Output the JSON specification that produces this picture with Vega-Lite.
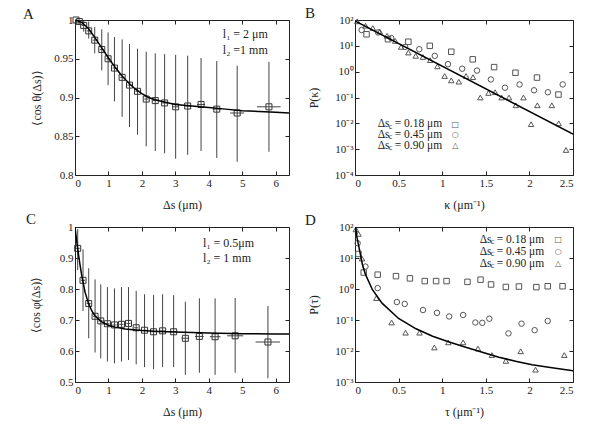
{
"$schema": "https://vega.github.io/schema/vega-lite/v6.json",
"padding": {"left": 22, "top": 5, "right": 5, "bottom": 5},
"config": {
  "font": "Liberation Serif",
  "view": {"stroke": "#222", "strokeWidth": 1},
  "axis": {"grid": false, "domain": false, "tickSize": -4, "tickColor": "#222", "labelFont": "Liberation Serif", "labelFontSize": 11, "labelColor": "#222", "labelPadding": 6, "titleFont": "Liberation Serif", "titleFontSize": 12, "titleFontWeight": "normal", "titleColor": "#222"},
  "axisBottom": {"titlePadding": 11},
  "title": {"font": "Liberation Serif", "fontSize": 15, "fontWeight": "normal", "color": "#222", "anchor": "start", "frame": "group", "offset": 0, "baseline": "alphabetic"}
},
"datasets": {
  "A": [
    {"s":0.03,"m":1.000,"lo":0.999,"hi":1.000,"xlo":0.0,"xhi":0.08},
    {"s":0.13,"m":0.998,"lo":0.995,"hi":1.000,"xlo":0.08,"xhi":0.18},
    {"s":0.26,"m":0.993,"lo":0.985,"hi":0.999,"xlo":0.2,"xhi":0.32},
    {"s":0.41,"m":0.986,"lo":0.976,"hi":0.998,"xlo":0.35,"xhi":0.47},
    {"s":0.59,"m":0.974,"lo":0.957,"hi":0.991,"xlo":0.53,"xhi":0.65},
    {"s":0.80,"m":0.962,"lo":0.935,"hi":0.988,"xlo":0.74,"xhi":0.86},
    {"s":0.99,"m":0.950,"lo":0.916,"hi":0.984,"xlo":0.93,"xhi":1.05},
    {"s":1.18,"m":0.938,"lo":0.895,"hi":0.978,"xlo":1.12,"xhi":1.24},
    {"s":1.41,"m":0.926,"lo":0.875,"hi":0.975,"xlo":1.35,"xhi":1.47},
    {"s":1.63,"m":0.916,"lo":0.862,"hi":0.969,"xlo":1.57,"xhi":1.69},
    {"s":1.87,"m":0.908,"lo":0.852,"hi":0.963,"xlo":1.81,"xhi":1.93},
    {"s":2.13,"m":0.898,"lo":0.837,"hi":0.959,"xlo":2.07,"xhi":2.19},
    {"s":2.40,"m":0.896,"lo":0.831,"hi":0.957,"xlo":2.33,"xhi":2.47},
    {"s":2.68,"m":0.893,"lo":0.828,"hi":0.956,"xlo":2.61,"xhi":2.75},
    {"s":3.01,"m":0.888,"lo":0.821,"hi":0.955,"xlo":2.93,"xhi":3.09},
    {"s":3.37,"m":0.889,"lo":0.826,"hi":0.954,"xlo":3.28,"xhi":3.46},
    {"s":3.77,"m":0.891,"lo":0.831,"hi":0.951,"xlo":3.65,"xhi":3.89},
    {"s":4.24,"m":0.885,"lo":0.822,"hi":0.947,"xlo":4.12,"xhi":4.36},
    {"s":4.85,"m":0.880,"lo":0.817,"hi":0.941,"xlo":4.64,"xhi":5.06},
    {"s":5.80,"m":0.888,"lo":0.830,"hi":0.946,"xlo":5.44,"xhi":6.15}
  ],
  "Acurve": [
    {"s":0,"m":1.000},{"s":0.2,"m":0.997},{"s":0.4,"m":0.989},{"s":0.6,"m":0.977},{"s":0.8,"m":0.964},
    {"s":1.0,"m":0.951},{"s":1.2,"m":0.939},{"s":1.4,"m":0.928},{"s":1.6,"m":0.919},{"s":1.8,"m":0.911},
    {"s":2.0,"m":0.905},{"s":2.2,"m":0.900},{"s":2.4,"m":0.897},{"s":2.7,"m":0.894},{"s":3.0,"m":0.891},
    {"s":3.5,"m":0.889},{"s":4.0,"m":0.887},{"s":4.5,"m":0.885},{"s":5.0,"m":0.883},{"s":5.5,"m":0.882},
    {"s":6.0,"m":0.881},{"s":6.4,"m":0.880}
  ],
  "C": [
    {"s":0.08,"m":0.931,"lo":0.861,"hi":0.993,"xlo":0.02,"xhi":0.14},
    {"s":0.24,"m":0.828,"lo":0.729,"hi":0.928,"xlo":0.18,"xhi":0.30},
    {"s":0.41,"m":0.753,"lo":0.641,"hi":0.867,"xlo":0.35,"xhi":0.47},
    {"s":0.60,"m":0.712,"lo":0.595,"hi":0.831,"xlo":0.54,"xhi":0.66},
    {"s":0.77,"m":0.697,"lo":0.576,"hi":0.815,"xlo":0.71,"xhi":0.83},
    {"s":0.97,"m":0.688,"lo":0.566,"hi":0.806,"xlo":0.91,"xhi":1.03},
    {"s":1.18,"m":0.684,"lo":0.560,"hi":0.802,"xlo":1.12,"xhi":1.24},
    {"s":1.39,"m":0.686,"lo":0.566,"hi":0.806,"xlo":1.33,"xhi":1.45},
    {"s":1.60,"m":0.689,"lo":0.571,"hi":0.806,"xlo":1.54,"xhi":1.66},
    {"s":1.83,"m":0.675,"lo":0.557,"hi":0.794,"xlo":1.77,"xhi":1.89},
    {"s":2.08,"m":0.667,"lo":0.548,"hi":0.783,"xlo":2.02,"xhi":2.14},
    {"s":2.35,"m":0.662,"lo":0.541,"hi":0.781,"xlo":2.28,"xhi":2.42},
    {"s":2.62,"m":0.665,"lo":0.548,"hi":0.783,"xlo":2.55,"xhi":2.69},
    {"s":2.95,"m":0.662,"lo":0.548,"hi":0.780,"xlo":2.87,"xhi":3.03},
    {"s":3.30,"m":0.641,"lo":0.523,"hi":0.759,"xlo":3.19,"xhi":3.41},
    {"s":3.72,"m":0.647,"lo":0.530,"hi":0.770,"xlo":3.59,"xhi":3.85},
    {"s":4.19,"m":0.646,"lo":0.523,"hi":0.770,"xlo":4.03,"xhi":4.35},
    {"s":4.79,"m":0.649,"lo":0.530,"hi":0.771,"xlo":4.55,"xhi":5.03},
    {"s":5.77,"m":0.629,"lo":0.512,"hi":0.745,"xlo":5.40,"xhi":6.13}
  ],
  "Ccurve": [
    {"s":0,"m":1.0},{"s":0.05,"m":0.955},{"s":0.1,"m":0.915},{"s":0.15,"m":0.878},{"s":0.2,"m":0.845},
    {"s":0.3,"m":0.790},{"s":0.4,"m":0.755},{"s":0.5,"m":0.730},{"s":0.6,"m":0.713},{"s":0.8,"m":0.694},
    {"s":1.0,"m":0.683},{"s":1.2,"m":0.677},{"s":1.5,"m":0.671},{"s":2.0,"m":0.666},{"s":2.5,"m":0.663},
    {"s":3.0,"m":0.661},{"s":4.0,"m":0.658},{"s":5.0,"m":0.656},{"s":6.0,"m":0.655},{"s":6.4,"m":0.655}
  ],
  "B": [
    {"k":0.132,"p":28,"c":"0.18"},{"k":0.378,"p":18,"c":"0.18"},{"k":0.612,"p":14.4,"c":"0.18"},{"k":0.858,"p":10,"c":"0.18"},
    {"k":1.104,"p":5.9,"c":"0.18"},{"k":1.35,"p":3.0,"c":"0.18"},{"k":1.595,"p":1.5,"c":"0.18"},{"k":1.84,"p":0.91,"c":"0.18"},
    {"k":2.087,"p":0.59,"c":"0.18"},{"k":2.333,"p":0.13,"c":"0.18"},
    {"k":0.076,"p":41,"c":"0.45"},{"k":0.265,"p":33,"c":"0.45"},{"k":0.416,"p":20,"c":"0.45"},{"k":0.575,"p":9.1,"c":"0.45"},
    {"k":0.737,"p":7.4,"c":"0.45"},{"k":0.915,"p":4.1,"c":"0.45"},{"k":1.066,"p":1.95,"c":"0.45"},{"k":1.229,"p":1.3,"c":"0.45"},
    {"k":1.399,"p":1.1,"c":"0.45"},{"k":1.558,"p":0.5,"c":"0.45"},{"k":1.72,"p":0.24,"c":"0.45"},{"k":1.887,"p":0.32,"c":"0.45"},
    {"k":2.053,"p":0.19,"c":"0.45"},{"k":2.212,"p":0.16,"c":"0.45"},{"k":2.382,"p":0.32,"c":"0.45"},
    {"k":0.026,"p":89,"c":"0.90"},{"k":0.121,"p":60,"c":"0.90"},{"k":0.204,"p":49,"c":"0.90"},{"k":0.284,"p":36,"c":"0.90"},
    {"k":0.367,"p":24.5,"c":"0.90"},{"k":0.461,"p":15.5,"c":"0.90"},{"k":0.529,"p":9.1,"c":"0.90"},{"k":0.612,"p":5.5,"c":"0.90"},
    {"k":0.696,"p":4.1,"c":"0.90"},{"k":0.779,"p":3.7,"c":"0.90"},{"k":0.862,"p":2.8,"c":"0.90"},{"k":0.945,"p":1.6,"c":"0.90"},
    {"k":1.028,"p":0.68,"c":"0.90"},{"k":1.104,"p":0.46,"c":"0.90"},{"k":1.191,"p":0.41,"c":"0.90"},{"k":1.274,"p":0.68,"c":"0.90"},
    {"k":1.353,"p":0.61,"c":"0.90"},{"k":1.437,"p":0.10,"c":"0.90"},{"k":1.531,"p":0.15,"c":"0.90"},{"k":1.607,"p":0.16,"c":"0.90"},
    {"k":1.682,"p":0.10,"c":"0.90"},{"k":1.766,"p":0.10,"c":"0.90"},{"k":1.845,"p":0.05,"c":"0.90"},{"k":1.932,"p":0.10,"c":"0.90"},
    {"k":2.019,"p":0.0093,"c":"0.90"},{"k":2.091,"p":0.05,"c":"0.90"},{"k":2.257,"p":0.05,"c":"0.90"},{"k":2.336,"p":0.010,"c":"0.90"},
    {"k":2.42,"p":0.00093,"c":"0.90"}
  ],
  "Bline": [{"k":0,"p":93},{"k":2.5,"p":0.0038}],
  "D": [
    {"t":0.04,"p":13.5,"c":"0.18"},{"t":0.10,"p":3.4,"c":"0.18"},{"t":0.26,"p":2.9,"c":"0.18"},{"t":0.47,"p":2.6,"c":"0.18"},
    {"t":0.63,"p":2.2,"c":"0.18"},{"t":0.80,"p":1.8,"c":"0.18"},{"t":0.93,"p":1.8,"c":"0.18"},{"t":1.05,"p":1.8,"c":"0.18"},
    {"t":1.29,"p":1.7,"c":"0.18"},{"t":1.44,"p":2.0,"c":"0.18"},{"t":1.56,"p":1.4,"c":"0.18"},{"t":1.73,"p":1.16,"c":"0.18"},
    {"t":1.88,"p":1.2,"c":"0.18"},{"t":2.08,"p":1.15,"c":"0.18"},{"t":2.21,"p":1.23,"c":"0.18"},{"t":2.38,"p":1.23,"c":"0.18"},
    {"t":0.03,"p":30,"c":"0.45"},{"t":0.12,"p":5.3,"c":"0.45"},{"t":0.26,"p":1.07,"c":"0.45"},{"t":0.48,"p":0.38,"c":"0.45"},
    {"t":0.57,"p":0.33,"c":"0.45"},{"t":0.78,"p":0.21,"c":"0.45"},{"t":0.94,"p":0.17,"c":"0.45"},{"t":1.08,"p":0.13,"c":"0.45"},
    {"t":1.24,"p":0.145,"c":"0.45"},{"t":1.38,"p":0.083,"c":"0.45"},{"t":1.46,"p":0.081,"c":"0.45"},{"t":1.54,"p":0.11,"c":"0.45"},
    {"t":1.76,"p":0.037,"c":"0.45"},{"t":1.91,"p":0.076,"c":"0.45"},{"t":2.06,"p":0.047,"c":"0.45"},{"t":2.21,"p":0.093,"c":"0.45"},
    {"t":0.01,"p":84,"c":"0.90"},{"t":0.04,"p":60,"c":"0.90"},{"t":0.08,"p":9.6,"c":"0.90"},{"t":0.245,"p":0.51,"c":"0.90"},
    {"t":0.42,"p":0.083,"c":"0.90"},{"t":0.58,"p":0.039,"c":"0.90"},{"t":0.74,"p":0.039,"c":"0.90"},{"t":0.91,"p":0.013,"c":"0.90"},
    {"t":1.07,"p":0.019,"c":"0.90"},{"t":1.24,"p":0.019,"c":"0.90"},{"t":1.41,"p":0.012,"c":"0.90"},{"t":1.57,"p":0.0074,"c":"0.90"},
    {"t":1.73,"p":0.0048,"c":"0.90"},{"t":1.90,"p":0.0098,"c":"0.90"},{"t":2.07,"p":0.0025,"c":"0.90"},{"t":2.40,"p":0.0074,"c":"0.90"}
  ],
  "Dline": [
    {"t":0.008,"p":100},{"t":0.02,"p":50},{"t":0.046,"p":22},{"t":0.084,"p":6.3},{"t":0.12,"p":2.95},{"t":0.2,"p":0.95},
    {"t":0.31,"p":0.35},{"t":0.5,"p":0.112},{"t":0.7,"p":0.052},{"t":0.89,"p":0.030},{"t":1.08,"p":0.0195},{"t":1.27,"p":0.0132},
    {"t":1.46,"p":0.0091},{"t":1.65,"p":0.0063},{"t":1.84,"p":0.0047},{"t":2.03,"p":0.0036},{"t":2.22,"p":0.0030},{"t":2.5,"p":0.0023}
  ]
},
"columns": 2,
"spacing": {"row": 52, "column": 66},
"bounds": "flush",
"concat": [
  {"width": 214, "height": 155,
   "title": {"text": "A", "dx": -52, "dy": 12},
   "resolve": {"axis": {"x": "independent", "y": "independent"}},
   "layer": [
    {"data": {"name": "A"}, "mark": {"type": "rule", "color": "#444", "strokeWidth": 1},
     "encoding": {
      "x": {"field": "s", "type": "quantitative", "scale": {"domain": [0, 6.4], "nice": false, "zero": false}, "axis": {"orient": "bottom", "values": [0,1,2,3,4,5,6], "format": "d", "title": "Δs (μm)"}},
      "y": {"field": "lo", "type": "quantitative", "scale": {"domain": [0.8, 1], "nice": false, "zero": false}, "axis": {"orient": "left", "values": [0.8,0.85,0.9,0.95,1], "format": ".2~f", "title": "⟨cos θ(Δs)⟩", "titlePadding": 10}},
      "y2": {"field": "hi"}}},
    {"data": {"name": "A"}, "mark": {"type": "rule", "color": "#444", "strokeWidth": 1},
     "encoding": {
      "x": {"field": "xlo", "type": "quantitative", "scale": {"domain": [0, 6.4], "nice": false, "zero": false}, "axis": null},
      "x2": {"field": "xhi"},
      "y": {"field": "m", "type": "quantitative", "scale": {"domain": [0.8, 1], "nice": false, "zero": false}, "axis": null}}},
    {"data": {"name": "A"}, "mark": {"type": "point", "shape": "square", "filled": false, "size": 36, "color": "#333", "strokeWidth": 1, "opacity": 1},
     "encoding": {
      "x": {"field": "s", "type": "quantitative", "scale": {"domain": [0, 6.4], "nice": false, "zero": false}, "axis": null},
      "y": {"field": "m", "type": "quantitative", "scale": {"domain": [0.8, 1], "nice": false, "zero": false}, "axis": null}}},
    {"data": {"name": "Acurve"}, "mark": {"type": "line", "color": "#000", "strokeWidth": 1.5, "clip": true},
     "encoding": {
      "x": {"field": "s", "type": "quantitative", "scale": {"domain": [0, 6.4], "nice": false, "zero": false}, "axis": {"orient": "top", "values": [0,1,2,3,4,5,6], "labels": false, "title": null}},
      "y": {"field": "m", "type": "quantitative", "scale": {"domain": [0.8, 1], "nice": false, "zero": false}, "axis": {"orient": "right", "values": [0.8,0.85,0.9,0.95,1], "labels": false, "title": null}}}},
    {"data": {"values": [{}]}, "mark": {"type": "text", "text": ["l₁ = 2 μm", "l₂ =1 mm"], "align": "left", "baseline": "top", "fontSize": 12, "lineHeight": 16, "font": "Liberation Serif", "color": "#222"},
     "encoding": {
      "x": {"datum": 4.42, "type": "quantitative", "scale": {"domain": [0, 6.4], "nice": false, "zero": false}, "axis": null},
      "y": {"datum": 0.988, "type": "quantitative", "scale": {"domain": [0.8, 1], "nice": false, "zero": false}, "axis": null}}}
   ]},
  {"width": 218, "height": 155,
   "title": {"text": "B", "dx": -50, "dy": 11},
   "resolve": {"axis": {"x": "independent", "y": "independent"}},
   "layer": [
    {"data": {"name": "B"}, "mark": {"type": "point", "filled": false, "size": 30, "strokeWidth": 1, "color": "#555", "opacity": 1},
     "encoding": {
      "x": {"field": "k", "type": "quantitative", "scale": {"domain": [0, 2.5], "nice": false, "zero": false}, "axis": {"orient": "bottom", "values": [0,0.5,1,1.5,2,2.5], "format": "~g", "title": "κ (μm⁻¹)"}},
      "y": {"field": "p", "type": "quantitative", "scale": {"type": "log", "domain": [0.0001, 100], "nice": false}, "axis": {"orient": "left", "values": [0.0001,0.001,0.01,0.1,1,10,100], "labelExpr": "'10' + ['⁻⁴','⁻³','⁻²','⁻¹','⁰','¹','²'][round(log(datum.value)/LN10)+4]", "title": "P(κ)", "titlePadding": 14}},
      "shape": {"field": "c", "type": "nominal", "scale": {"domain": ["0.18","0.45","0.90"], "range": ["square","circle","triangle-up"]}, "legend": null}}},
    {"data": {"name": "Bline"}, "mark": {"type": "line", "color": "#000", "strokeWidth": 1.5, "clip": true},
     "encoding": {
      "x": {"field": "k", "type": "quantitative", "scale": {"domain": [0, 2.5], "nice": false, "zero": false}, "axis": {"orient": "top", "values": [0,0.5,1,1.5,2,2.5], "labels": false, "title": null}},
      "y": {"field": "p", "type": "quantitative", "scale": {"type": "log", "domain": [0.0001, 100], "nice": false}, "axis": {"orient": "right", "values": [0.0001,0.001,0.01,0.1,1,10,100], "labels": false, "title": null}}}},
    {"data": {"values": [{}]}, "mark": {"type": "text", "text": ["Δs", "Δs", "Δs"], "align": "left", "baseline": "top", "fontSize": 11.5, "lineHeight": 10.8, "font": "Liberation Serif", "color": "#222"},
     "encoding": {
      "x": {"datum": 0.26, "type": "quantitative", "scale": {"domain": [0, 2.5], "nice": false, "zero": false}, "axis": null},
      "y": {"datum": 0.0158, "type": "quantitative", "scale": {"type": "log", "domain": [0.0001, 100], "nice": false}, "axis": null}}},
    {"data": {"values": [{}]}, "mark": {"type": "text", "text": ["c", "c", "c"], "align": "left", "baseline": "top", "fontSize": 8, "lineHeight": 10.8, "dx": 11, "dy": 4.5, "font": "Liberation Serif", "color": "#222"},
     "encoding": {
      "x": {"datum": 0.26, "type": "quantitative", "scale": {"domain": [0, 2.5], "nice": false, "zero": false}, "axis": null},
      "y": {"datum": 0.0158, "type": "quantitative", "scale": {"type": "log", "domain": [0.0001, 100], "nice": false}, "axis": null}}},
    {"data": {"values": [{}]}, "mark": {"type": "text", "text": ["= 0.18 μm", "= 0.45 μm", "= 0.90 μm"], "align": "left", "baseline": "top", "fontSize": 11.5, "lineHeight": 10.8, "dx": 17, "font": "Liberation Serif", "color": "#222"},
     "encoding": {
      "x": {"datum": 0.26, "type": "quantitative", "scale": {"domain": [0, 2.5], "nice": false, "zero": false}, "axis": null},
      "y": {"datum": 0.0158, "type": "quantitative", "scale": {"type": "log", "domain": [0.0001, 100], "nice": false}, "axis": null}}},
    {"data": {"values": [{}]}, "mark": {"type": "text", "text": ["□", "○", "△"], "align": "center", "baseline": "top", "fontSize": 8, "lineHeight": 10.8, "dy": 2.5, "font": "DejaVu Sans", "color": "#555"},
     "encoding": {
      "x": {"datum": 1.15, "type": "quantitative", "scale": {"domain": [0, 2.5], "nice": false, "zero": false}, "axis": null},
      "y": {"datum": 0.0158, "type": "quantitative", "scale": {"type": "log", "domain": [0.0001, 100], "nice": false}, "axis": null}}}
   ]},
  {"width": 214, "height": 155,
   "title": {"text": "C", "dx": -49, "dy": 10},
   "resolve": {"axis": {"x": "independent", "y": "independent"}},
   "layer": [
    {"data": {"name": "C"}, "mark": {"type": "rule", "color": "#444", "strokeWidth": 1},
     "encoding": {
      "x": {"field": "s", "type": "quantitative", "scale": {"domain": [0, 6.4], "nice": false, "zero": false}, "axis": {"orient": "bottom", "values": [0,1,2,3,4,5,6], "format": "d", "title": "Δs (μm)"}},
      "y": {"field": "lo", "type": "quantitative", "scale": {"domain": [0.5, 1], "nice": false, "zero": false}, "axis": {"orient": "left", "values": [0.5,0.6,0.7,0.8,0.9,1], "format": ".1~f", "title": "⟨cos φ(Δs)⟩", "titlePadding": 17}},
      "y2": {"field": "hi"}}},
    {"data": {"name": "C"}, "mark": {"type": "rule", "color": "#444", "strokeWidth": 1},
     "encoding": {
      "x": {"field": "xlo", "type": "quantitative", "scale": {"domain": [0, 6.4], "nice": false, "zero": false}, "axis": null},
      "x2": {"field": "xhi"},
      "y": {"field": "m", "type": "quantitative", "scale": {"domain": [0.5, 1], "nice": false, "zero": false}, "axis": null}}},
    {"data": {"name": "C"}, "mark": {"type": "point", "shape": "square", "filled": false, "size": 36, "color": "#333", "strokeWidth": 1, "opacity": 1},
     "encoding": {
      "x": {"field": "s", "type": "quantitative", "scale": {"domain": [0, 6.4], "nice": false, "zero": false}, "axis": null},
      "y": {"field": "m", "type": "quantitative", "scale": {"domain": [0.5, 1], "nice": false, "zero": false}, "axis": null}}},
    {"data": {"name": "Ccurve"}, "mark": {"type": "line", "color": "#000", "strokeWidth": 1.5, "clip": true},
     "encoding": {
      "x": {"field": "s", "type": "quantitative", "scale": {"domain": [0, 6.4], "nice": false, "zero": false}, "axis": {"orient": "top", "values": [0,1,2,3,4,5,6], "labels": false, "title": null}},
      "y": {"field": "m", "type": "quantitative", "scale": {"domain": [0.5, 1], "nice": false, "zero": false}, "axis": {"orient": "right", "values": [0.5,0.6,0.7,0.8,0.9,1], "labels": false, "title": null}}}},
    {"data": {"values": [{}]}, "mark": {"type": "text", "text": ["l₁ = 0.5μm", "l₂ =  1   mm"], "align": "left", "baseline": "top", "fontSize": 12, "lineHeight": 15, "font": "Liberation Serif", "color": "#222"},
     "encoding": {
      "x": {"datum": 3.83, "type": "quantitative", "scale": {"domain": [0, 6.4], "nice": false, "zero": false}, "axis": null},
      "y": {"datum": 0.966, "type": "quantitative", "scale": {"domain": [0.5, 1], "nice": false, "zero": false}, "axis": null}}}
   ]},
  {"width": 218, "height": 155,
   "title": {"text": "D", "dx": -50, "dy": 11},
   "resolve": {"axis": {"x": "independent", "y": "independent"}},
   "layer": [
    {"data": {"name": "D"}, "mark": {"type": "point", "filled": false, "size": 30, "strokeWidth": 1, "color": "#555", "opacity": 1},
     "encoding": {
      "x": {"field": "t", "type": "quantitative", "scale": {"domain": [0, 2.5], "nice": false, "zero": false}, "axis": {"orient": "bottom", "values": [0,0.5,1,1.5,2,2.5], "format": "~g", "title": "τ (μm⁻¹)"}},
      "y": {"field": "p", "type": "quantitative", "scale": {"type": "log", "domain": [0.001, 100], "nice": false}, "axis": {"orient": "left", "values": [0.001,0.01,0.1,1,10,100], "labelExpr": "'10' + ['⁻³','⁻²','⁻¹','⁰','¹','²'][round(log(datum.value)/LN10)+3]", "title": "P(τ)", "titlePadding": 14}},
      "shape": {"field": "c", "type": "nominal", "scale": {"domain": ["0.18","0.45","0.90"], "range": ["square","circle","triangle-up"]}, "legend": null}}},
    {"data": {"name": "Dline"}, "mark": {"type": "line", "color": "#000", "strokeWidth": 1.5, "clip": true},
     "encoding": {
      "x": {"field": "t", "type": "quantitative", "scale": {"domain": [0, 2.5], "nice": false, "zero": false}, "axis": {"orient": "top", "values": [0,0.5,1,1.5,2,2.5], "labels": false, "title": null}},
      "y": {"field": "p", "type": "quantitative", "scale": {"type": "log", "domain": [0.001, 100], "nice": false}, "axis": {"orient": "right", "values": [0.001,0.01,0.1,1,10,100], "labels": false, "title": null}}}},
    {"data": {"values": [{}]}, "mark": {"type": "text", "text": ["Δs", "Δs", "Δs"], "align": "left", "baseline": "top", "fontSize": 11.5, "lineHeight": 12, "font": "Liberation Serif", "color": "#222"},
     "encoding": {
      "x": {"datum": 1.43, "type": "quantitative", "scale": {"domain": [0, 2.5], "nice": false, "zero": false}, "axis": null},
      "y": {"datum": 60, "type": "quantitative", "scale": {"type": "log", "domain": [0.001, 100], "nice": false}, "axis": null}}},
    {"data": {"values": [{}]}, "mark": {"type": "text", "text": ["c", "c", "c"], "align": "left", "baseline": "top", "fontSize": 8, "lineHeight": 12, "dx": 11, "dy": 4.5, "font": "Liberation Serif", "color": "#222"},
     "encoding": {
      "x": {"datum": 1.43, "type": "quantitative", "scale": {"domain": [0, 2.5], "nice": false, "zero": false}, "axis": null},
      "y": {"datum": 60, "type": "quantitative", "scale": {"type": "log", "domain": [0.001, 100], "nice": false}, "axis": null}}},
    {"data": {"values": [{}]}, "mark": {"type": "text", "text": ["= 0.18 μm", "= 0.45 μm", "= 0.90 μm"], "align": "left", "baseline": "top", "fontSize": 11.5, "lineHeight": 12, "dx": 17, "font": "Liberation Serif", "color": "#222"},
     "encoding": {
      "x": {"datum": 1.43, "type": "quantitative", "scale": {"domain": [0, 2.5], "nice": false, "zero": false}, "axis": null},
      "y": {"datum": 60, "type": "quantitative", "scale": {"type": "log", "domain": [0.001, 100], "nice": false}, "axis": null}}},
    {"data": {"values": [{}]}, "mark": {"type": "text", "text": ["□", "○", "△"], "align": "center", "baseline": "top", "fontSize": 8, "lineHeight": 12, "dy": 2.5, "font": "DejaVu Sans", "color": "#555"},
     "encoding": {
      "x": {"datum": 2.33, "type": "quantitative", "scale": {"domain": [0, 2.5], "nice": false, "zero": false}, "axis": null},
      "y": {"datum": 60, "type": "quantitative", "scale": {"type": "log", "domain": [0.001, 100], "nice": false}, "axis": null}}}
   ]}
]
}
